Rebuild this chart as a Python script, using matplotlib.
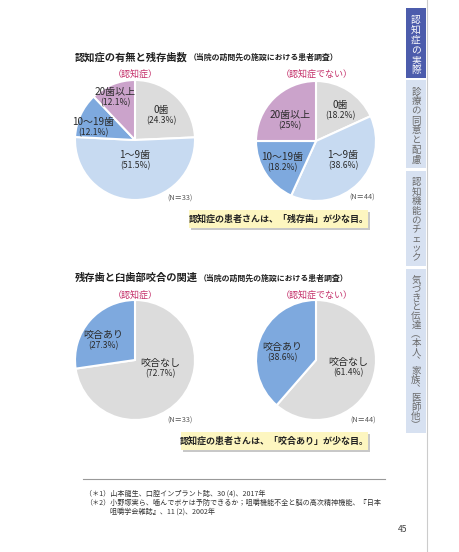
import matplotlib.pyplot as plt
from matplotlib.patches import Rectangle

plt.rcParams['font.family'] = ['Noto Sans CJK JP', 'DejaVu Sans']

W, H = 460, 552

# --- data ---
teeth_labels = ['0歯', '1〜9歯', '10〜19歯', '20歯以上']
teeth_dementia = [24.3, 51.5, 12.1, 12.1]
teeth_no_dementia = [18.2, 38.6, 18.2, 25.0]

bite_labels = ['咬合なし', '咬合あり']
bite_dementia = [72.7, 27.3]
bite_no_dementia = [61.4, 38.6]

group_labels = ['（認知症）', '（認知症でない）']
n_counts = [33, 44]

tabs = ['認知症の実際', '診療の同意と配慮', '認知機能のチェック',
        '気づきと伝達︵本人︑家族︑医師他︶']

notes = ['（＊1）山本龍生、口腔インプラント誌、30 (4)、2017年',
         '（＊2）小野塚実ら、噛んでボケは予防できるか；咀嚼機能不全と脳の高次精神機能、『日本',
         '咀嚼学会雑誌』、11 (2)、2002年']

teeth_colors = ['#dcdcdc', '#c7daf1', '#7ea9de', '#cba3cb']
bite_colors = ['#dcdcdc', '#7ea9de']
pink = '#c4306a'
txt = '#2a2a2a'

fig = plt.figure(figsize=(W / 100, H / 100), dpi=100)
ax = fig.add_axes([0, 0, 1, 1])
ax.set_xlim(0, W)
ax.set_ylim(0, H)
ax.set_autoscale_on(False)


def Y(y):
    # page coordinates are measured from the top
    return H - y


def pie(values, labels, colors, cx, cy, label_pos, n, nxy):
    ax.pie(values, colors=colors, startangle=90, counterclock=False,
           center=(cx, Y(cy)), radius=60, frame=True,
           wedgeprops=dict(edgecolor='white', linewidth=1.5))
    for v, lab, (lx, ly) in zip(values, labels, label_pos):
        ax.text(lx, Y(ly), lab, ha='center', va='center', fontsize=7.2, color=txt)
        ax.text(lx, Y(ly + 10.5), f'({v:g}%)', ha='center', va='center',
                fontsize=6.2, color=txt)
    ax.text(nxy[0], Y(nxy[1]), f'(N＝{n})', ha='center', va='center',
            fontsize=5.2, color='#555555')


def title(x, y, main, sub):
    t = ax.text(x, Y(y), main, ha='left', va='center', fontsize=7.4,
                fontweight='bold', color='#222222')
    fig.canvas.draw()
    bb = t.get_window_extent()
    ax.text(bb.x1 + 1, Y(y) - 0.5, sub, ha='left', va='center', fontsize=5.7,
            fontweight='bold', color='#222222')


def callout(x0, y0, x1, y1, s):
    ax.add_patch(Rectangle((x0 + 2, Y(y1) - 2), x1 - x0, y1 - y0,
                           facecolor='#c8c8c8', edgecolor='none'))
    ax.add_patch(Rectangle((x0, Y(y1)), x1 - x0, y1 - y0,
                           facecolor='#fdf6c0', edgecolor='none'))
    ax.text((x0 + x1) / 2, Y((y0 + y1) / 2), s, ha='center', va='center',
            fontsize=6.5, fontweight='bold', color='#222222')


# section 1
title(75, 57, '認知症の有無と残存歯数', '（当院の訪問先の施設における患者調査）')
ax.text(135, Y(74), group_labels[0], ha='center', va='center', fontsize=6.5, color=pink)
ax.text(317, Y(74), group_labels[1], ha='center', va='center', fontsize=6.5, color=pink)

pie(teeth_dementia, teeth_labels, teeth_colors, 135, 140,
    [(161, 110), (135, 155), (93, 122), (115, 92)], n_counts[0], (180, 199))
pie(teeth_no_dementia, teeth_labels, teeth_colors, 316, 141,
    [(340, 105), (343, 155), (282, 157), (290, 115)], n_counts[1], (362, 198))

callout(189, 210, 368, 228, '認知症の患者さんは、「残存歯」が少な目。')

# section 2
title(75, 278, '残存歯と臼歯部咬合の関連', '（当院の訪問先の施設における患者調査）')
ax.text(135, Y(295), group_labels[0], ha='center', va='center', fontsize=6.5, color=pink)
ax.text(317, Y(295), group_labels[1], ha='center', va='center', fontsize=6.5, color=pink)

pie(bite_dementia, bite_labels, bite_colors, 135, 360,
    [(160, 363), (103, 335)], n_counts[0], (180, 421))
pie(bite_no_dementia, bite_labels, bite_colors, 316, 360,
    [(348, 362), (282, 347)], n_counts[1], (363, 421))

callout(181, 432, 368, 450, '認知症の患者さんは、「咬合あり」が少な目。')

# footnotes
ax.plot([83, 385], [Y(479), Y(479)], color='#999999', lw=0.8)
ax.text(85, Y(494), notes[0], ha='left', va='center', fontsize=5.1, color='#333333')
ax.text(85, Y(503), notes[1], ha='left', va='center', fontsize=5.1, color='#333333')
ax.text(110, Y(512), notes[2], ha='left', va='center', fontsize=5.1, color='#333333')
ax.text(403, Y(530), '45', ha='center', va='center', fontsize=6.2, color='#444444')

# side tabs
ax.plot([427, 427], [0, H], color='#cccccc', lw=0.8)
tab_spans = [(8, 78), (80, 168), (171, 266), (269, 433)]
for i, (s, (t0, t1)) in enumerate(zip(tabs, tab_spans)):
    ax.add_patch(Rectangle((406, Y(t1)), 20, t1 - t0,
                           facecolor='#4c5cac' if i == 0 else '#d7e1f1',
                           edgecolor='none'))
    step = min(11.5, (t1 - t0 - 10) / len(s))
    for k, ch in enumerate(s):
        ax.text(416, Y(t0 + 7 + step * (k + 0.5)), ch, ha='center', va='center',
                fontsize=7 if i == 0 else 6.8,
                color='white' if i == 0 else '#6a6a6a')

ax.set_xlim(0, W)
ax.set_ylim(0, H)
ax.axis('off')
fig.savefig('out.png', dpi=100)
